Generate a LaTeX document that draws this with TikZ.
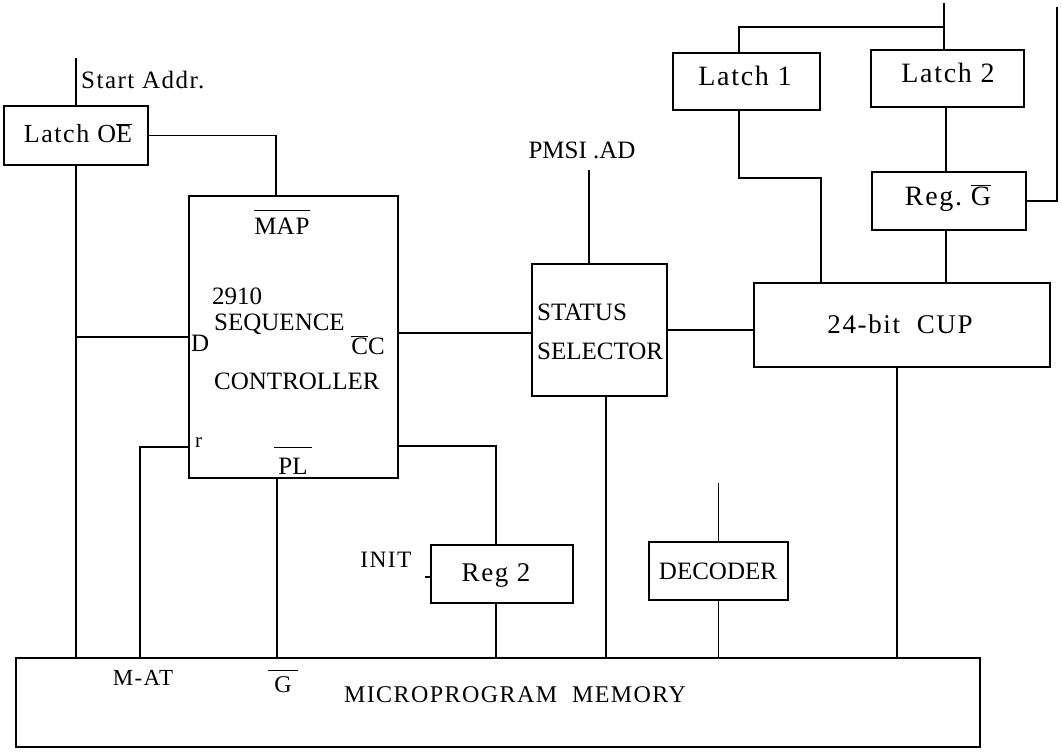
\documentclass[tikz,border=0pt]{standalone}
\usepackage{fontspec}
\setmainfont{Liberation Serif}
\newfontfamily\tw[LetterSpace=6]{Liberation Serif}
\usetikzlibrary{calc}
\newcommand{\ob}[1]{$\overline{\mbox{#1}}$}
\newcommand{\obh}[2]{$\overline{\mbox{\rule{0pt}{#1}#2}}$}
\begin{document}
\begin{tikzpicture}[x=1pt,y=-1pt,
  box/.style={draw,line width=1.5pt,inner sep=0pt},
  wire/.style={line width=1.5pt},
  rm/.style={inner sep=0pt,font=\fontsize{25}{27}\selectfont},
  tt/.style={inner sep=0pt,font=\tw\fontsize{#1}{28}\selectfont}]
\useasboundingbox (0,0) rectangle (1062,753);
% boxes
\node[box,minimum width=144pt,minimum height=59pt] (loe) at (76,135.5) {};
\node[box,minimum width=209pt,minimum height=282pt] (seq) at (293.5,337) {};
\node[box,minimum width=135pt,minimum height=132pt] (sts) at (599.5,330) {};
\node[box,minimum width=296pt,minimum height=84pt] (cup) at (902,325) {};
\node[box,minimum width=147pt,minimum height=57pt] (l1) at (746.5,81.5) {};
\node[box,minimum width=153pt,minimum height=57pt] (l2) at (947.5,78.5) {};
\node[box,minimum width=154pt,minimum height=58pt] (rg) at (949,201) {};
\node[box,minimum width=142pt,minimum height=58pt] (r2) at (502,574) {};
\node[box,minimum width=139pt,minimum height=58pt] (dec) at (718.5,571) {};
\node[box,minimum width=964pt,minimum height=89pt] (mem) at (498,702.5) {};
% free ends / pins
\coordinate (sa) at (76,58);
\coordinate (mapin) at (276,196);
\coordinate (rin) at (189,447);
\coordinate (plout) at (277,478);
\coordinate (ccout) at (398,333);
\coordinate (r2src) at (398,446);
\coordinate (r2in) at (496,545);
\coordinate (r2out) at (496,603);
\coordinate (pmsi) at (589,170);
\coordinate (stsin) at (589,264);
\coordinate (stsout) at (606,396);
\coordinate (cupout) at (897,367);
\coordinate (l1in) at (739,53);
\coordinate (l1out) at (739,110);
\coordinate (cupin1) at (821,283);
\coordinate (l2in) at (944,50);
\coordinate (bus) at (944,3);
\coordinate (l2out) at (946,107);
\coordinate (rgin) at (946,172);
\coordinate (rgout) at (946,230);
\coordinate (cupin2) at (946,283);
\coordinate (fb) at (1057,7);
\coordinate (initp) at (425,577);
% connectors
\draw[wire] (sa) -- (loe.north);
\draw[wire] (loe.east) -| (mapin);
\draw[wire] (loe.south) -- (loe.south |- mem.north);
\draw[wire] (seq.west) -- (seq.west -| loe.south);
\draw[wire] (rin) -| (140,0 |- mem.north);
\draw[wire] (plout) -- (plout |- mem.north);
\draw[wire] (ccout) -- (ccout -| sts.west);
\draw[wire] (r2src) -| (r2in);
\draw[wire] (r2out) -- (r2out |- mem.north);
\draw[wire] (initp) -- (initp -| r2.west);
\draw[wire] (pmsi) -- (stsin);
\draw[wire] (stsout) -- (stsout |- mem.north);
\draw[wire] (sts.east) -- (sts.east -| cup.west);
\draw[wire] (cupout) -- (cupout |- mem.north);
\draw[wire] (718.5,483) -- (dec.north);
\draw[wire] (dec.south) -- (dec.south |- mem.north);
\draw[wire] (l1in) -- (739,27) -- (944,27);
\draw[wire] (bus) -- (l2in);
\draw[wire] (l1out) -- (739,178) -| (cupin1);
\draw[wire] (l2out) -- (rgin);
\draw[wire] (rg.east) -| (fb);
\draw[wire] (rgout) -- (cupin2);
% texts
\node[tt=25,anchor=west] (tsa) at (81,80) {Start Addr.};
\node[tt=26] at (78,133) {Latch O\ob{E}};
\node[rm,anchor=base] at (282,234) {\obh{22pt}{MA\kern1pt P}};
\node[rm,anchor=west] at (212,296) {2910};
\node[rm,anchor=west] at (214,324) {SEQUENCE};
\node[rm,anchor=west] at (191,343) {D};
\node[rm] at (368,345) {\ob{C}C};
\node[rm,anchor=west] at (214,381) {CONTROLLER};
\node[rm,font=\fontsize{21}{22}\selectfont,anchor=west] at (195,443) {r};
\node[rm,anchor=base] at (293,474) {\obh{25pt}{\,PL\,}};
\node[rm] at (582,150) {PMSI .AD};
\node[rm,anchor=west] at (537,312) {STATUS};
\node[rm,anchor=west] at (537,351) {SELECTOR};
\node[tt=27] at (900,324) {24-bit\ \ CUP};
\node[tt=28] at (745,76) {Latch 1};
\node[tt=28] at (948,73) {Latch 2};
\node[tt=28] at (948,198) {Reg.\ \ob{G}};
\node[tt=23.5] at (386,560) {INIT};
\node[tt=27] at (496,575) {Reg 2};
\node[rm] at (718,571) {DECODER};
\node[tt=23] at (143,678) {M-AT};
\node[tt=24,anchor=base] at (283,692) {\obh{20pt}{\;G\;}};
\node[tt=24] at (515,695) {MICROPROGRAM\ \ MEMORY};
\end{tikzpicture}
\end{document}
